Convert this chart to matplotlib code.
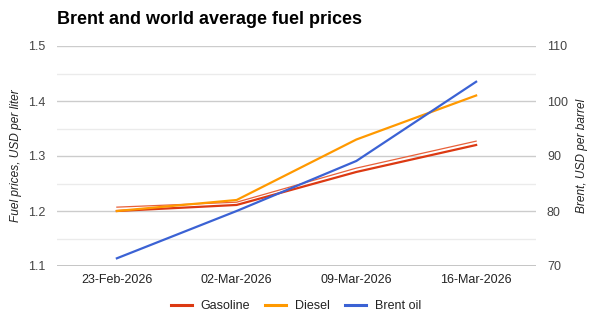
import matplotlib.pyplot as plt
from matplotlib.ticker import MultipleLocator

plt.rcParams['font.family'] = ['Liberation Sans', 'DejaVu Sans']

dates = ["23-Feb-2026", "02-Mar-2026", "09-Mar-2026", "16-Mar-2026"]
gasoline = [1.20, 1.211, 1.271, 1.32]
gasoline_prev = [1.207, 1.216, 1.278, 1.327]
diesel = [1.20, 1.22, 1.33, 1.41]
brent = [71.4, 80.0, 89.1, 103.5]

fig = plt.figure(figsize=(6.03, 3.24), dpi=100)
ax = fig.add_axes([57 / 603, 1 - 266 / 324, (536 - 57) / 603, 220 / 324])
ax2 = ax.twinx()

x = range(len(dates))

# left axis: fuel prices
ax.set_ylim(1.1, 1.5)
ax.set_xlim(-0.5, len(dates) - 0.5)
ax.yaxis.set_major_locator(MultipleLocator(0.1))
ax.yaxis.set_minor_locator(MultipleLocator(0.05))
ax.grid(axis='y', which='major', color='#cccccc', lw=1)
ax.grid(axis='y', which='minor', color='#ebebeb', lw=1)
ax.set_axisbelow(True)
ax.axhline(1.1, color='#bdbdbd', lw=1.2, zorder=1)

ax.plot(x, gasoline_prev, color='#e8613a', lw=0.9, zorder=3)
l1, = ax.plot(x, gasoline, color='#dc3912', lw=1.6, zorder=3)
l2, = ax.plot(x, diesel, color='#ff9900', lw=1.6, zorder=4)

# right axis: Brent
ax2.set_ylim(70, 110)
ax2.yaxis.set_major_locator(MultipleLocator(10))
l3, = ax2.plot(x, brent, color='#3b62d4', lw=1.6)

ax.set_xticks(list(x))
ax.set_xticklabels(dates)
ax.yaxis.set_major_formatter(plt.FuncFormatter(lambda v, p: f"{v:.1f}"))

for a in (ax, ax2):
    for s in a.spines.values():
        s.set_visible(False)
    a.tick_params(length=0, labelsize=9, labelcolor='#444444')
    a.tick_params(which='minor', length=0)
ax.tick_params(axis='y', pad=8.6)
ax2.tick_params(axis='y', pad=7.9)
ax.tick_params(axis='x', pad=5.5, labelcolor='#222222')

ax.set_ylabel("Fuel prices, USD per liter", fontsize=8.6, style='italic',
              color='#222222', labelpad=4)
ax2.set_ylabel("Brent, USD per barrel", fontsize=8.6, style='italic',
               color='#222222', labelpad=6)

fig.text(57 / 603, 1 - 24 / 324, "Brent and world average fuel prices",
         fontsize=13, fontweight='bold', ha='left', va='baseline')

fig.legend([l1, l2, l3], ["Gasoline", "Diesel", "Brent oil"],
           loc='center', bbox_to_anchor=(296 / 603, 1 - 306 / 324),
           ncol=3, frameon=False, fontsize=9, handlelength=1.7,
           columnspacing=1.2, handletextpad=0.7)
for t in fig.legends[0].get_texts():
    t.set_color('#222222')
for h in fig.legends[0].get_lines():
    h.set_linewidth(2.2)

fig.savefig("out.png", dpi=100)
